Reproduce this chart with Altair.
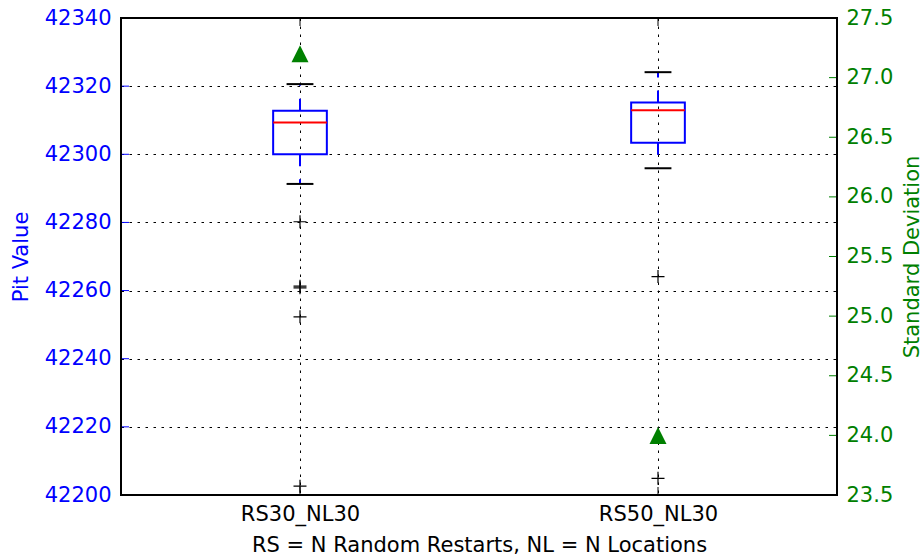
import altair as alt
import pandas as pd

# Run configurations along the x axis
categories = ["RS30_NL30", "RS50_NL30"]
positions = [1, 2]

# Box-plot statistics of the pit value for each configuration
q1 = [42300.0, 42303.4]
median = [42309.3, 42312.9]
q3 = [42312.8, 42315.2]
whisker_low = [42291.3, 42295.9]
whisker_high = [42320.6, 42324.1]

# Fliers beyond the whiskers
outliers_rs30 = [42280.2, 42261.3, 42260.8, 42252.3, 42202.6]
outliers_rs50 = [42264.1, 42204.9]

# Standard deviation of the pit value (right axis)
std_dev = [27.2, 24.0]

# Axis ticks
pit_ticks = [42200, 42220, 42240, 42260, 42280, 42300, 42320, 42340]
std_ticks = [23.5, 24.0, 24.5, 25.0, 25.5, 26.0, 26.5, 27.0, 27.5]

BLUE = "#0000ff"
GREEN = "#008000"
RED = "#ff0000"
FONT = "DejaVu Sans"
FS = 21
HALF_BOX = 0.075
HALF_CAP = 0.0375
W, H = 716, 477

stats = pd.DataFrame({
    "cat": categories, "pos": positions, "q1": q1, "med": median,
    "q3": q3, "wlo": whisker_low, "whi": whisker_high, "std": std_dev,
})
fliers = pd.DataFrame({
    "pos": [positions[0]] * len(outliers_rs30) + [positions[1]] * len(outliers_rs50),
    "value": outliers_rs30 + outliers_rs50,
})
pit_tick_df = pd.DataFrame({"v": pit_ticks})
std_tick_df = pd.DataFrame({"v": std_ticks})
pos_df = pd.DataFrame({"pos": positions})

label_expr = " : ".join(
    f"datum.value == {p} ? '{c}'" for p, c in zip(positions, categories)
) + " : ''"

x_scale = alt.Scale(domain=[0.5, 2.5], nice=False, zero=False)
y_scale = alt.Scale(domain=[42200, 42340], nice=False, zero=False)
s_scale = alt.Scale(domain=[23.5, 27.5], nice=False, zero=False)

x_axis = alt.Axis(
    values=positions, labelExpr=label_expr, title="RS = N Random Restarts, NL = N Locations",
    grid=True, gridColor="black", gridDash=[2.5, 5.5], gridWidth=1, gridOpacity=1,
    domain=False, ticks=False, labelPadding=8, titlePadding=10,
    labelColor="black", titleColor="black", labelFontSize=FS, titleFontSize=FS,
    labelFont=FONT, titleFont=FONT, titleFontWeight="normal",
)
y_axis = alt.Axis(
    values=pit_ticks, format="d", title="Pit Value", orient="left",
    grid=True, gridColor="black", gridDash=[2.5, 5.5], gridWidth=1, gridOpacity=1,
    domain=False, ticks=False, labelPadding=10, titlePadding=13,
    labelColor=BLUE, titleColor=BLUE, labelFontSize=FS, titleFontSize=FS,
    labelFont=FONT, titleFont=FONT, titleFontWeight="normal",
)
s_axis = alt.Axis(
    values=std_ticks, format=".1f", title="Standard Deviation", orient="right",
    grid=False, domain=False, ticks=False, labelPadding=9, titlePadding=9,
    titleAngle=270, titleBaseline="top",
    labelColor=GREEN, titleColor=GREEN, labelFontSize=FS, titleFontSize=FS,
    labelFont=FONT, titleFont=FONT, titleFontWeight="normal",
)

base = alt.Chart(stats).transform_calculate(
    bx=f"datum.pos - {HALF_BOX}", bx2=f"datum.pos + {HALF_BOX}",
    cx=f"datum.pos - {HALF_CAP}", cx2=f"datum.pos + {HALF_CAP}",
)

boxes = base.mark_rect(fill="white", fillOpacity=0, stroke=BLUE, strokeWidth=2).encode(
    x=alt.X("bx:Q", scale=x_scale, axis=x_axis),
    x2="bx2:Q",
    y=alt.Y("q1:Q", scale=y_scale, axis=y_axis),
    y2="q3:Q",
)
medians = base.mark_rule(color=RED, strokeWidth=2).encode(
    x=alt.X("bx:Q", scale=x_scale), x2="bx2:Q",
    y=alt.Y("med:Q", scale=y_scale),
)
upper_whisk = base.mark_rule(color=BLUE, strokeWidth=2, strokeDash=[12, 13]).encode(
    x=alt.X("pos:Q", scale=x_scale),
    y=alt.Y("q3:Q", scale=y_scale), y2="whi:Q",
)
lower_whisk = base.mark_rule(color=BLUE, strokeWidth=2, strokeDash=[12, 13]).encode(
    x=alt.X("pos:Q", scale=x_scale),
    y=alt.Y("q1:Q", scale=y_scale), y2="wlo:Q",
)
upper_caps = base.mark_rule(color="black", strokeWidth=2).encode(
    x=alt.X("cx:Q", scale=x_scale), x2="cx2:Q",
    y=alt.Y("whi:Q", scale=y_scale),
)
lower_caps = base.mark_rule(color="black", strokeWidth=2).encode(
    x=alt.X("cx:Q", scale=x_scale), x2="cx2:Q",
    y=alt.Y("wlo:Q", scale=y_scale),
)
flier_marks = alt.Chart(fliers).mark_point(
    shape="M-1,0L1,0M0,-1L0,1", size=169, color="black", strokeWidth=1.2, filled=False, opacity=1,
).encode(
    x=alt.X("pos:Q", scale=x_scale),
    y=alt.Y("value:Q", scale=y_scale),
)

# Inward tick marks on the frame
left_ticks = alt.Chart(pit_tick_df).mark_rule(color=BLUE, strokeWidth=1).encode(
    y=alt.Y("v:Q", scale=y_scale), x=alt.value(0), x2=alt.value(8),
)
bottom_ticks = alt.Chart(pos_df).mark_rule(color="black", strokeWidth=1).encode(
    x=alt.X("pos:Q", scale=x_scale), y=alt.value(H - 8), y2=alt.value(H),
)
top_ticks = alt.Chart(pos_df).mark_rule(color="black", strokeWidth=1).encode(
    x=alt.X("pos:Q", scale=x_scale), y=alt.value(0), y2=alt.value(8),
)

# Frame around the plotting area
frame = alt.Chart(pos_df).mark_rect(
    fill="white", fillOpacity=0, stroke="black", strokeWidth=2,
).encode(
    x=alt.value(0), x2=alt.value(W), y=alt.value(0), y2=alt.value(H),
)

left_layer = alt.layer(
    boxes, upper_whisk, lower_whisk, upper_caps, lower_caps, medians,
    flier_marks, left_ticks, bottom_ticks, top_ticks,
)

triangles = alt.Chart(stats).mark_point(
    shape="M0,-1L-1,1L1,1Z", size=289, filled=True, color=GREEN, opacity=1,
).encode(
    x=alt.X("pos:Q", scale=x_scale),
    y=alt.Y("std:Q", scale=s_scale, axis=s_axis),
)
right_ticks = alt.Chart(std_tick_df).mark_rule(color=GREEN, strokeWidth=1).encode(
    y=alt.Y("v:Q", scale=s_scale), x=alt.value(W - 8), x2=alt.value(W),
)
right_layer = alt.layer(triangles, right_ticks, frame)

chart = alt.layer(left_layer, right_layer).resolve_scale(y="independent").properties(
    width=W,
    height=H,
    autosize=alt.AutoSizeParams(type="none"),
    padding={"left": 121, "top": 18, "right": 86, "bottom": 64},
).configure_view(
    stroke=None, fill="white",
).configure(background="white")

chart.save("out.html", embed_options={"renderer": "svg", "actions": False})
